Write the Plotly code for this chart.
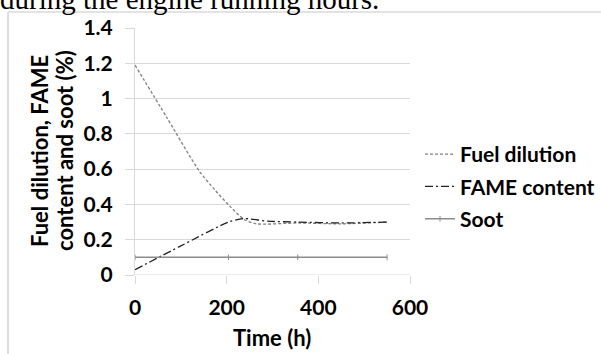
import plotly.graph_objects as go

# ---- data ----
fuel_x = [0, 70, 140, 175, 207, 238, 265, 355, 450, 550]
fuel_y = [1.19, 0.89, 0.59, 0.48, 0.39, 0.315, 0.29, 0.295, 0.29, 0.30]
fame_x = [0, 100, 204, 236, 290, 355, 450, 550]
fame_y = [0.03, 0.165, 0.30, 0.32, 0.305, 0.30, 0.295, 0.30]
soot_x = [0, 204, 355, 550]
soot_y = [0.10, 0.10, 0.10, 0.10]
x_ticks = [0, 200, 400, 600]
y_ticks = [0, 0.2, 0.4, 0.6, 0.8, 1, 1.2, 1.4]
y_tick_text = ["0", "0.2", "0.4", "0.6", "0.8", "1", "1.2", "1.4"]
y_title_lines = ["Fuel dilution, FAME", "content and soot (%)"]

W, H = 601, 354
L, R, T, B = 135, 410, 28, 275  # plot area in pixels
FONT = "Lato"
FS = 21


def px_x(p):
    return (p - L) / (R - L)


def px_y(p):
    return (B - p) / (B - T)


fig = go.Figure()
fig.add_trace(go.Scatter(x=fuel_x, y=fuel_y, mode="lines", name="Fuel dilution",
                         legendgroup="a",
                         line=dict(color="#808080", width=1.3, dash="3px,2px",
                                   shape="spline", smoothing=0.7)))
fig.add_trace(go.Scatter(x=fame_x, y=fame_y, mode="lines", name="FAME content",
                         legendgroup="b",
                         line=dict(color="#222222", width=1.3, dash="8px,3px,2px,3px",
                                   shape="spline", smoothing=0.7)))
fig.add_trace(go.Scatter(x=soot_x, y=soot_y, mode="lines+markers", name="Soot",
                         legendgroup="c",
                         line=dict(color="#8c8c8c", width=1.5),
                         marker=dict(symbol="line-ns", size=4,
                                     line=dict(color="#8c8c8c", width=1))))

fig.update_layout(
    width=W, height=H,
    margin=dict(l=L, r=W - R, t=T, b=H - B, autoexpand=False),
    paper_bgcolor="white", plot_bgcolor="white",
    font=dict(family=FONT, size=FS, color="black"),
    showlegend=True,
    legend=dict(x=px_x(420), y=px_y(134), xanchor="left", yanchor="top",
                font=dict(family=FONT, size=FS, color="black", weight="bold"),
                tracegroupgap=2, itemwidth=30, bgcolor="rgba(0,0,0,0)"),
    xaxis=dict(range=[0, 600], tickvals=x_ticks, showgrid=False,
               showline=False, zeroline=False,
               ticks="outside", ticklen=8, tickcolor="#d9d9d9",
               tickfont=dict(family=FONT, size=FS, weight="bold"),
               ticklabelstandoff=6),
    yaxis=dict(range=[0, 1.4], tickvals=y_ticks, ticktext=y_tick_text,
               showgrid=True, gridcolor="#d9d9d9", gridwidth=1,
               zeroline=False, showline=True, linecolor="#d9d9d9",
               ticks="outside", ticklen=9, tickcolor="#d9d9d9",
               tickfont=dict(family=FONT, size=FS, weight="bold"),
               ticklabelstandoff=8),
)

# x-axis baseline
fig.add_shape(type="line", xref="paper", yref="y", x0=0, x1=1, y0=0, y1=0,
              line=dict(color="#d9d9d9", width=1))

# outer chart border (top and left)
fig.add_shape(type="line", xref="paper", yref="paper",
              x0=px_x(8), x1=px_x(W + 5), y0=px_y(12), y1=px_y(12),
              line=dict(color="#c8c8c8", width=1.2))
fig.add_shape(type="line", xref="paper", yref="paper",
              x0=px_x(8), x1=px_x(8), y0=px_y(12), y1=px_y(H + 5),
              line=dict(color="#c8c8c8", width=1.2))

# axis titles
for line_text, cx in zip(y_title_lines, [39, 64]):
    fig.add_annotation(xref="paper", yref="paper", x=px_x(cx), y=px_y(151),
                       text=line_text, textangle=-90, showarrow=False,
                       font=dict(family=FONT, size=22, weight="bold"),
                       xanchor="center", yanchor="middle")
fig.add_annotation(xref="paper", yref="paper", x=px_x(272), y=px_y(337),
                   text="Time (h)", showarrow=False,
                   font=dict(family=FONT, size=22, weight="bold"),
                   xanchor="center", yanchor="middle")

# cropped caption text at the top
fig.add_annotation(xref="paper", yref="paper", x=px_x(-2), y=px_y(-1),
                   text="during the engine running hours.", showarrow=False,
                   font=dict(family="Liberation Serif", size=29, color="black"),
                   xanchor="left", yanchor="middle")

fig.write_html("out.html")
